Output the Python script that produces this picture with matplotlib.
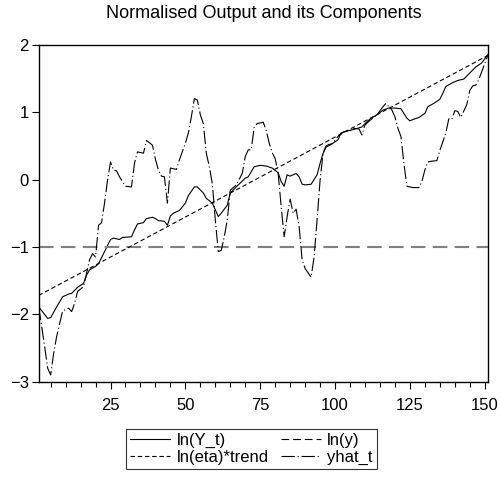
import matplotlib
matplotlib.use("Agg")
import matplotlib.pyplot as plt

plt.rcParams['font.family'] = ['Liberation Sans', 'DejaVu Sans']

# ln(Y_t)
lnY_t = [1, 4, 5, 7, 9, 11, 12, 14, 16, 17, 18, 20, 21, 23, 25, 26, 28, 29, 32, 33,
         34, 36, 37, 39, 40, 41, 43, 44, 45, 46, 48, 50, 51, 53, 54, 56, 57, 59, 61, 62,
         64, 65, 67, 70, 71, 73, 75, 77, 79, 81, 82, 83, 84, 85, 87, 88, 89, 90, 92, 94,
         95, 96, 97, 99, 101, 102, 104, 106, 109, 110, 112, 114, 116, 118, 120, 122, 124, 125, 126, 128,
         130, 131, 133, 135, 136, 137, 139, 141, 143, 145, 147, 149, 151]
lnY_v = [-1.89, -2.06, -2.05, -1.89, -1.74, -1.70, -1.69, -1.60, -1.54, -1.42, -1.34, -1.29, -1.25, -1.07, -0.89, -0.87, -0.89, -0.86, -0.85, -0.75,
         -0.66, -0.64, -0.58, -0.56, -0.58, -0.61, -0.62, -0.68, -0.54, -0.50, -0.46, -0.35, -0.24, -0.11, -0.11, -0.20, -0.28, -0.35, -0.55, -0.50,
         -0.38, -0.20, -0.11, 0.02, 0.04, 0.19, 0.21, 0.20, 0.17, 0.10, -0.03, -0.10, 0.07, 0.05, 0.09, 0.04, -0.07, -0.08, -0.07, 0.07,
         0.24, 0.39, 0.48, 0.53, 0.59, 0.69, 0.72, 0.74, 0.78, 0.83, 0.91, 0.96, 1.03, 1.06, 1.06, 1.05, 0.91, 0.87, 0.89, 0.92,
         0.98, 1.08, 1.13, 1.19, 1.28, 1.38, 1.43, 1.47, 1.49, 1.58, 1.67, 1.73, 1.85]

# yhat_t
yhat_t = [1, 2, 3, 4, 5, 6, 7, 9, 11, 12, 13, 14, 16, 17, 18, 19, 20, 21, 22, 23,
          24, 25, 26, 27, 28, 30, 32, 33, 34, 36, 37, 39, 40, 41, 42, 43, 44, 45, 47, 48,
          50, 51, 52, 53, 54, 55, 56, 57, 58, 59, 60, 61, 62, 63, 64, 65, 67, 69, 70, 71,
          72, 73, 74, 76, 77, 78, 79, 80, 81, 82, 83, 84, 85, 86, 87, 88, 89, 90, 92, 93,
          94, 95, 96, 97, 98, 99, 101, 103, 105, 106, 108, 109, 110, 112, 114, 116, 117, 119, 120, 121,
          122, 123, 124, 125, 126, 128, 129, 130, 131, 132, 134, 135, 137, 138, 139, 140, 141, 142, 144, 145,
          146, 147, 148, 149, 151]
yhat_v = [-1.89, -2.18, -2.48, -2.80, -2.90, -2.58, -2.33, -1.95, -1.91, -1.96, -1.84, -1.66, -1.59, -1.39, -1.19, -1.10, -1.15, -0.68, -0.64, -0.35,
          -0.01, 0.26, 0.14, 0.13, 0.04, -0.10, -0.11, 0.24, 0.41, 0.39, 0.58, 0.51, 0.30, 0.14, 0.05, 0.04, -0.35, 0.17, 0.15, 0.29,
          0.54, 0.69, 0.93, 1.20, 1.18, 0.96, 0.83, 0.39, 0.19, -0.06, -0.60, -1.07, -1.05, -0.85, -0.60, -0.16, -0.08, 0.09, 0.34, 0.44,
          0.44, 0.78, 0.83, 0.85, 0.73, 0.54, 0.40, 0.31, 0.09, -0.40, -0.85, -0.55, -0.29, -0.50, -0.44, -0.70, -1.19, -1.32, -1.45, -1.15,
          -0.60, -0.01, 0.39, 0.50, 0.52, 0.53, 0.64, 0.71, 0.72, 0.76, 0.75, 0.66, 0.81, 0.89, 0.96, 1.08, 1.13, 1.03, 0.93, 0.76,
          0.64, 0.24, -0.10, -0.11, -0.12, -0.12, -0.03, 0.14, 0.26, 0.27, 0.28, 0.43, 0.69, 0.90, 0.89, 1.02, 1.01, 0.92, 1.11, 1.32,
          1.39, 1.40, 1.48, 1.60, 1.84]

# ln(eta)*trend
trend_t = [1, 151]
trend_v = [-1.72, 1.84]

# ln(y)
lny_t = [1, 151]
lny_v = [-1.0, -1.0]

fig = plt.figure(figsize=(5.01, 4.84), dpi=100)
ax = fig.add_axes([0.0772, 0.2114, 0.8963, 0.6962])

l1, = ax.plot(lnY_t, lnY_v, color='black', lw=0.8, label='ln(Y_t)')
l2, = ax.plot(lny_t, lny_v, color='#808080', lw=1.5, dashes=(7, 3.5), label='ln(y)')
l3, = ax.plot(trend_t, trend_v, color='black', lw=0.8, dashes=(4, 2.5), label='ln(eta)*trend')
l4, = ax.plot(yhat_t, yhat_v, color='black', lw=0.8, dashes=(12, 2.5, 1, 2.5), label='yhat_t')

ax.set_xlim(1, 151)
ax.set_ylim(-3, 2)
ax.set_xticks([25, 50, 75, 100, 125, 150])
ax.set_xticks(range(5, 151, 5), minor=True)
ax.set_yticks([-3, -2, -1, 0, 1, 2])
ax.tick_params(axis='both', which='major', direction='out', length=5, width=0.8,
               labelsize=12, top=False, right=False)
ax.tick_params(axis='x', which='minor', direction='out', length=3.5, width=0.8, top=False)
ax.tick_params(axis='x', pad=7)
ax.tick_params(axis='y', pad=2)
for s in ax.spines.values():
    s.set_linewidth(1.0)

fig.text(0.526, 0.973, 'Normalised Output and its Components', ha='center', va='center', fontsize=13)

leg = fig.legend([l1, l3, l2, l4], ['ln(Y_t)', 'ln(eta)*trend', 'ln(y)', 'yhat_t'],
                 ncol=2, loc='center', bbox_to_anchor=(0.502, 0.0723), fontsize=12,
                 frameon=True, fancybox=False, edgecolor='black', handlelength=2.4,
                 handletextpad=0.4, columnspacing=0.7, labelspacing=0.1,
                 borderpad=0.25, borderaxespad=0)
leg.get_frame().set_linewidth(0.8)
leg.legend_handles[2].set_color('black')
leg.legend_handles[2].set_linewidth(0.8)

fig.savefig('out.png', dpi=100)
